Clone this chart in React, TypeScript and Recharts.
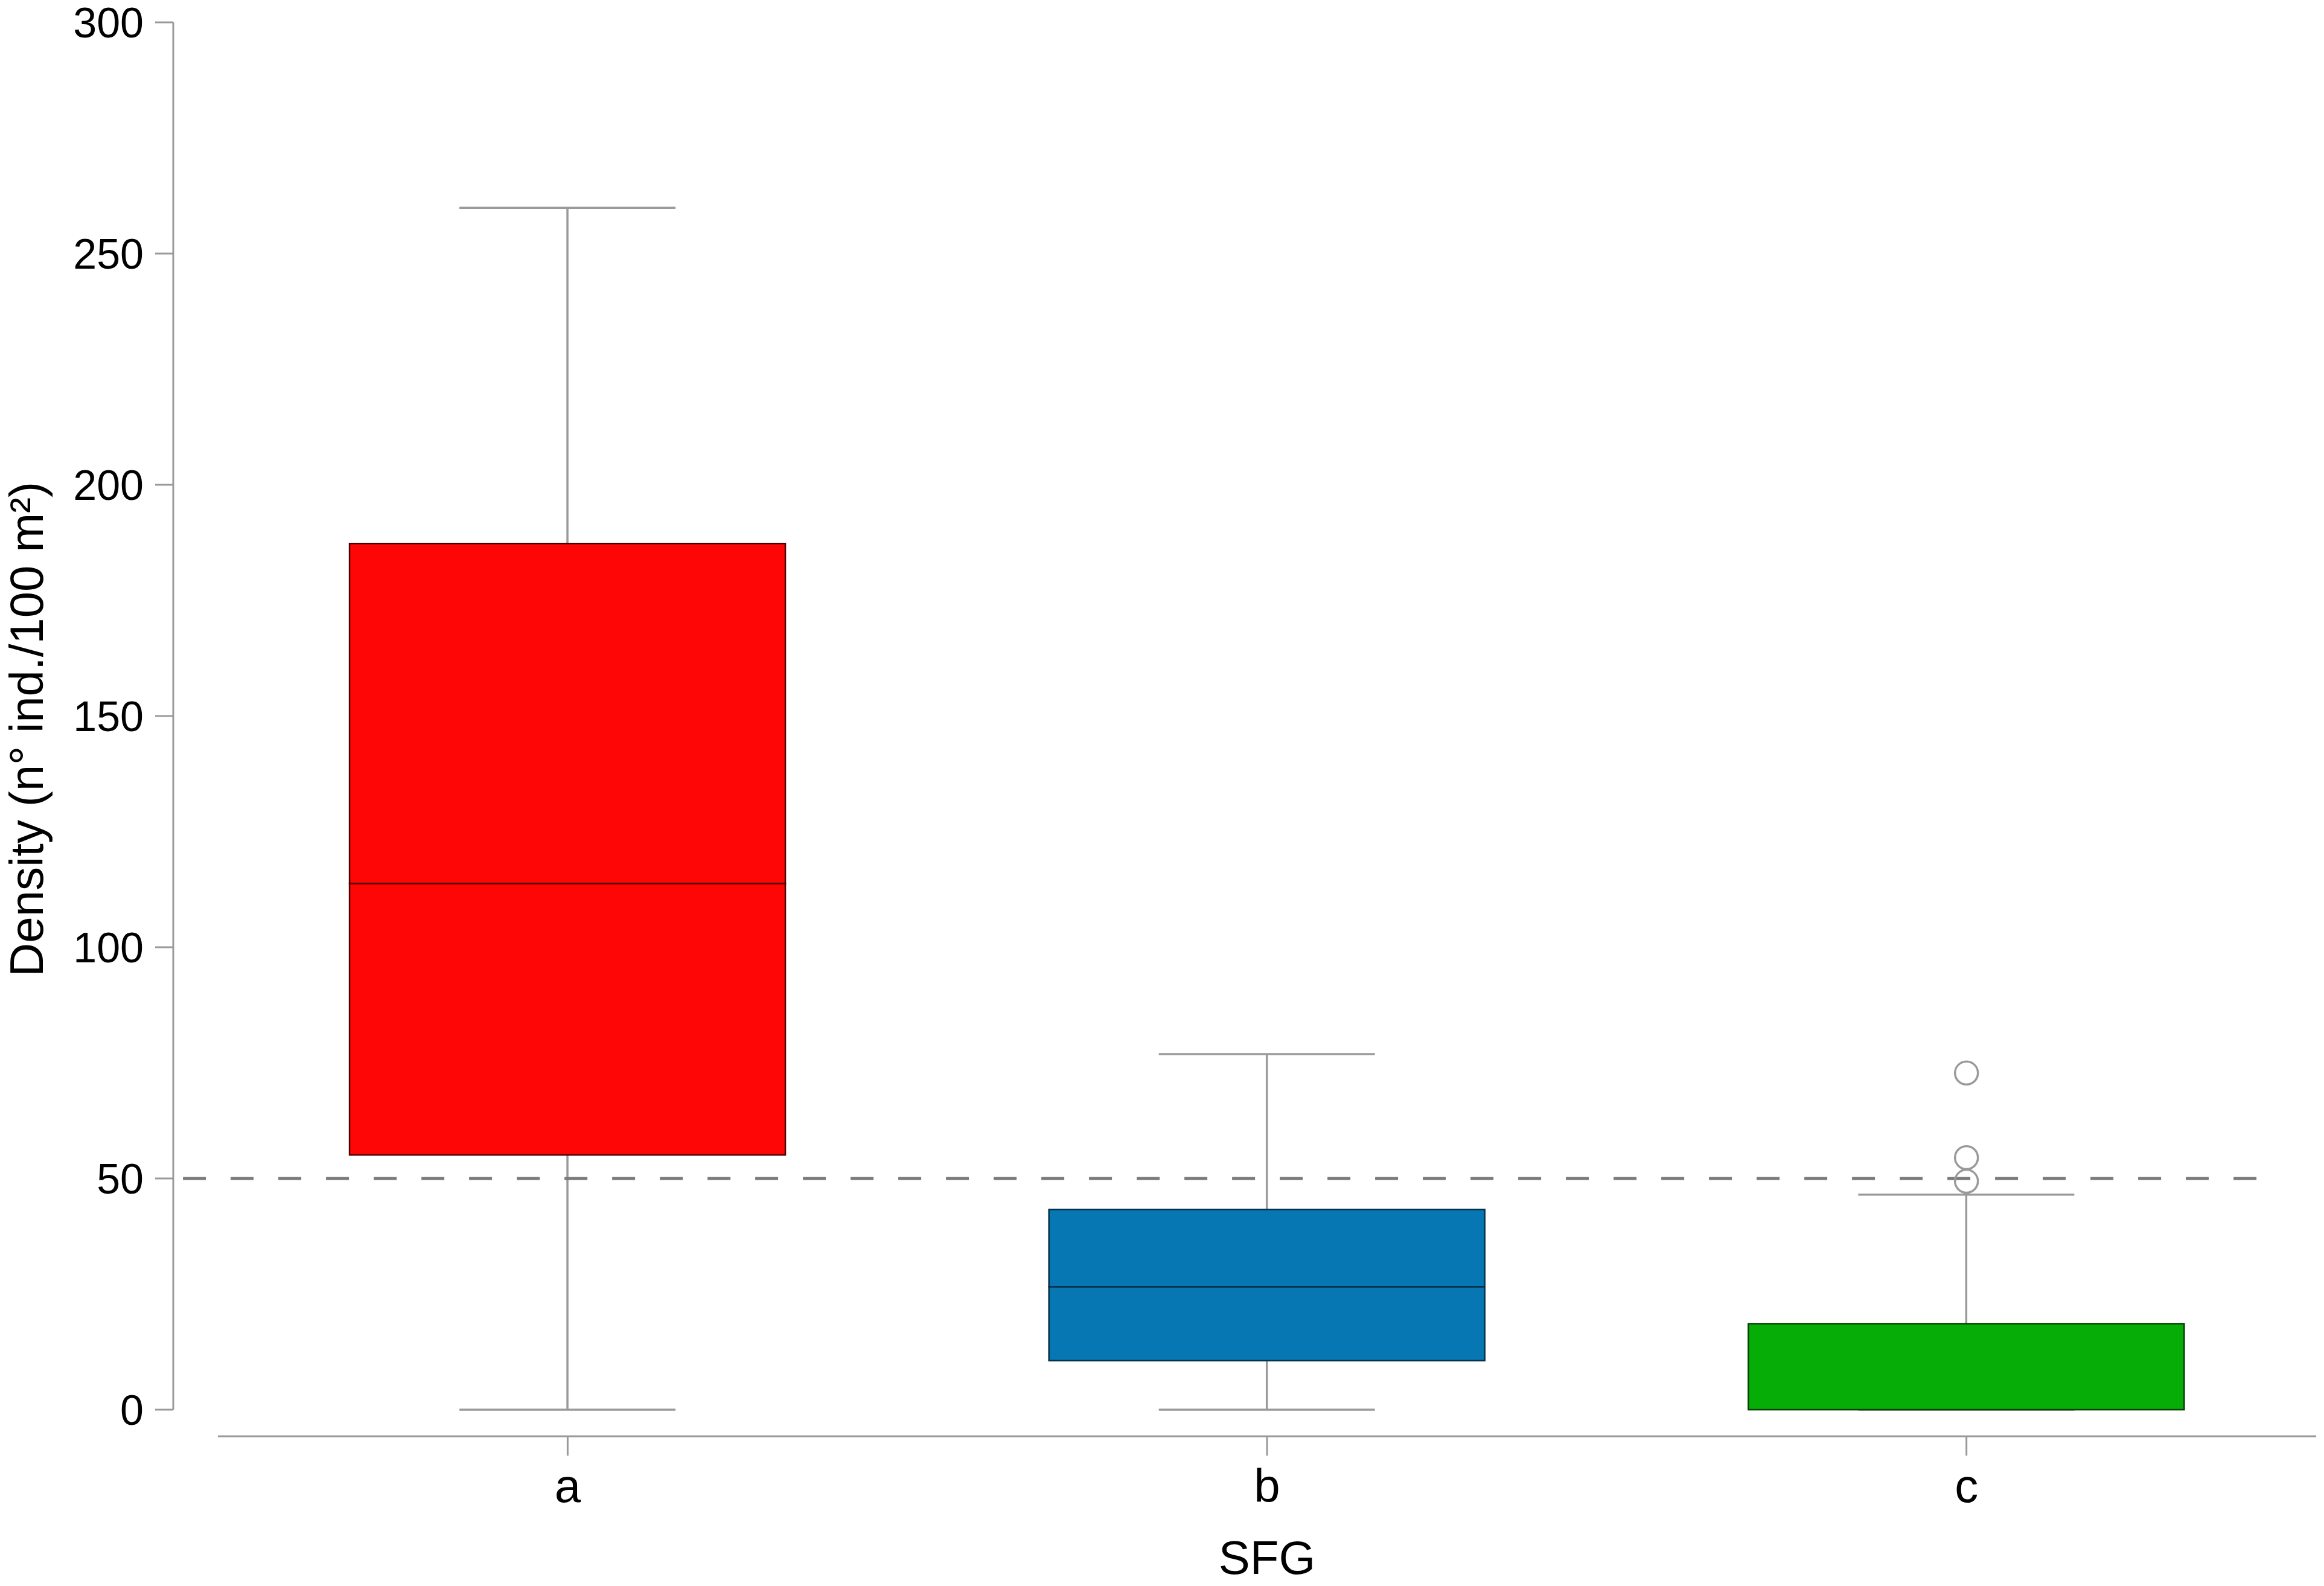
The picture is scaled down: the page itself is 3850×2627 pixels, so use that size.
import { ComposedChart, Bar, Scatter, XAxis, YAxis, ReferenceLine, Cell } from 'recharts'

// SFG groups
const categories = ['a', 'b', 'c']
const positions = [1, 2, 3]

// box plot statistics
const mins = [0, 0, 0]
const q1s = [55.1, 10.6, 0]
const medians = [113.8, 26.6, 0]
const q3s = [187.3, 43.3, 18.6]
const maxs = [259.9, 76.9, 46.5]

// outliers (group c only)
const outlierGroup = [3, 3, 3]
const outlierValues = [49.4, 54.5, 72.8]

const yTicks = [0, 50, 100, 150, 200, 250, 300]
const THRESHOLD = 50

const fills = ['#ff0606', '#0677b2', '#06ad06']
const edges = ['#4a0000', '#06304a', '#064006']

const X_MIN = 0.4361
const X_MAX = 3.5
const Y_MIN = -5.75
const Y_MAX = 300

const FONT = '"Liberation Sans", Arial, Helvetica, sans-serif'
const GREY = '#9a9a9a'
const BOX_W = 722
const CAP_W = 358

const boxData = positions.map((x, i) => ({
  x,
  lowWhisker: [mins[i], q1s[i]],
  boxLow: [q1s[i], medians[i]],
  boxHigh: [medians[i], q3s[i]],
  highWhisker: [q3s[i], maxs[i]],
}))

const outlierData = outlierGroup.map((x, i) => ({ x, y: outlierValues[i] }))

function Whisker(props: any, capOnTop: boolean) {
  const { x, y, width, height } = props
  if (x == null || y == null) return null
  const top = Math.min(y, y + height)
  const bottom = Math.max(y, y + height)
  const cx = x + width / 2
  const capY = capOnTop ? top : bottom
  return (
    <g>
      <line x1={cx} x2={cx} y1={top} y2={bottom} stroke={GREY} strokeWidth={3.5} />
      <line x1={cx - CAP_W / 2} x2={cx + CAP_W / 2} y1={capY} y2={capY} stroke={GREY} strokeWidth={3.5} />
    </g>
  )
}

function Outlier(props: any) {
  const { cx, cy } = props
  if (cx == null || cy == null) return null
  return <circle cx={cx} cy={cy} r={19} fill="none" stroke={GREY} strokeWidth={3.5} />
}

export default function App() {
  return (
    <div style={{ position: 'absolute', left: 0, top: 0, width: 3850, height: 2627, background: '#fff' }}>
      <ComposedChart
        width={3850}
        height={2627}
        data={boxData}
        margin={{ top: 37, right: 13, bottom: 0, left: 0 }}
        barSize={BOX_W}
        barGap={-BOX_W}
      >
        <XAxis
          dataKey="x"
          type="number"
          domain={[X_MIN, X_MAX]}
          allowDataOverflow
          ticks={positions}
          interval={0}
          tickFormatter={(v: number) => categories[v - 1]}
          axisLine={false}
          tickLine={{ stroke: GREY, strokeWidth: 3 }}
          tickSize={32}
          tickMargin={22}
          height={248}
          tick={{ fontSize: 78, fill: '#000', fontFamily: FONT }}
          label={{ value: 'SFG', position: 'insideBottom', offset: 20, dx: 37, style: { fontSize: 78, fill: '#000', fontFamily: FONT } }}
        />
        <YAxis
          type="number"
          domain={[Y_MIN, Y_MAX]}
          allowDataOverflow
          ticks={yTicks}
          interval={0}
          axisLine={false}
          tickLine={{ stroke: GREY, strokeWidth: 3 }}
          tickSize={30}
          tickMargin={19}
          width={287}
          tick={{ fontSize: 70, fill: '#000', fontFamily: FONT }}
          label={{
            value: 'Density (n° ind./100 m²)',
            angle: -90,
            position: 'insideLeft',
            offset: 43,
            style: { textAnchor: 'middle', fontSize: 78, fill: '#000', fontFamily: FONT },
          }}
        />

        {/* axis lines, drawn apart like the original */}
        <ReferenceLine segment={[{ x: X_MIN, y: 0 }, { x: X_MIN, y: Y_MAX }]} stroke={GREY} strokeWidth={3} ifOverflow="visible" />
        <ReferenceLine segment={[{ x: 0.5, y: Y_MIN }, { x: X_MAX, y: Y_MIN }]} stroke={GREY} strokeWidth={3} ifOverflow="visible" />

        <Bar dataKey="lowWhisker" isAnimationActive={false} shape={(p: any) => Whisker(p, false)} />
        <Bar dataKey="highWhisker" isAnimationActive={false} shape={(p: any) => Whisker(p, true)} />
        <Bar dataKey="boxLow" isAnimationActive={false} strokeWidth={2.5}>
          {categories.map((c, i) => <Cell key={c} fill={fills[i]} stroke={edges[i]} />)}
        </Bar>
        <Bar dataKey="boxHigh" isAnimationActive={false} strokeWidth={2.5}>
          {categories.map((c, i) => <Cell key={c} fill={fills[i]} stroke={edges[i]} />)}
        </Bar>

        {/* threshold */}
        <ReferenceLine
          segment={[{ x: 0.45, y: THRESHOLD }, { x: 3.415, y: THRESHOLD }]}
          stroke="#7a7a7a"
          strokeWidth={5}
          strokeDasharray="38 41"
          ifOverflow="visible"
        />

        <Scatter data={outlierData} dataKey="y" isAnimationActive={false} shape={<Outlier />} />
      </ComposedChart>
    </div>
  )
}
